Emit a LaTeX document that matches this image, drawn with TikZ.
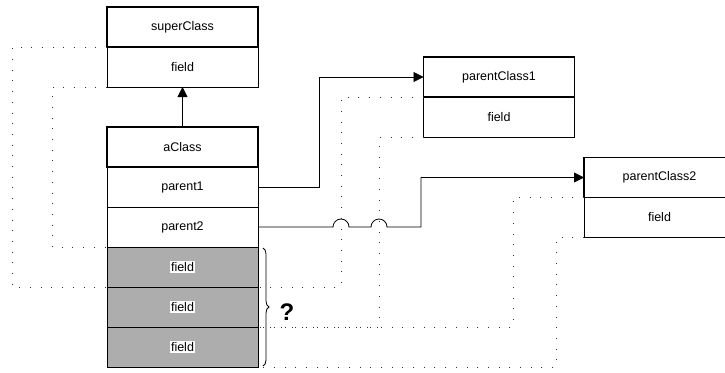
\documentclass[tikz,border=0pt]{standalone}
\usepackage{fontspec}
\setmainfont{Liberation Sans}
\usetikzlibrary{arrows.meta,positioning,decorations.pathreplacing}

\begin{document}
\begin{tikzpicture}[
        x=1pt, y=-1pt,
        box/.style={rectangle, draw, minimum width=151pt, minimum height=40pt, inner sep=0pt, outer sep=0pt, font=\fontsize{12.5}{14}\selectfont},
        head/.style={box, line width=1.8pt},
        fld/.style={box, line width=0.8pt},
        shaded/.style={fld, fill=black!32},
        tag/.style={fill=white, inner sep=1pt, font=\fontsize{12.5}{14}\selectfont},
        arrow/.style={-{Triangle[length=10pt,width=10pt]}, line width=0.8pt},
        link/.style={line width=0.9pt, black!80, dash pattern=on 0.9pt off 9.8pt}
    ]
        \useasboundingbox (0,0) rectangle (725,372);

        % Super class
        \node[fld] (supF) at (182.5,67) {field};
        \node[head, above=0pt of supF] (sup) {superClass};

        % The class and its fields
        \node[head] (aCls) at (182.5,147) {aClass};
        \node[fld, below=0pt of aCls] (par1) {parent1};
        \node[fld, below=0pt of par1] (par2) {parent2};
        \node[shaded, below=0pt of par2] (f1) {};
        \node[shaded, below=0pt of f1] (f2) {};
        \node[shaded, below=0pt of f2] (f3) {};
        \node[tag] (f1t) at (f1) {field};
        \node[tag] (f2t) at (f2) {field};
        \node[tag] (f3t) at (f3) {field};

        % Parent classes
        \node[head] (pc1) at (499,77) {parentClass1};
        \node[fld, below=0pt of pc1] (pc1F) {field};
        \node[head] (pc2) at (659.5,177.5) {parentClass2};
        \node[fld, below=0pt of pc2] (pc2F) {field};

        % Connections
        \draw[arrow] (aCls.north) -- (supF.south);
        \draw[arrow] (par1.east) -- ++(61,0) |- (pc1.west);
        \draw[arrow] (par2.east) -- (333,227) arc (180:360:8) -- (371,227) arc (180:360:8) -- (421,227) |- (pc2.west);

        % Field mapping
        \draw[link] (sup.south west) -| (12,287) -- (f1.south west);
        \draw[link] (supF.south west) -| (52,247) -- (f1.north west);
        \draw[link] (pc1.south west) -| (341,287) -- (f1.south east);
        \draw[link] (pc1F.south west) -| (379,327) -- (f2.south east);
        \draw[link] (pc2.south west) -| (513,327) -- (f3.north east);
        \draw[link] (pc2F.south west) -| (556,367) -- (f3.south east);

        % Brace
        \draw[line width=0.8pt, decorate, decoration={brace, amplitude=6pt}] (263,248) -- (263,366);
        \node[font=\fontsize{24}{26}\selectfont\bfseries] (q) at (287,312) {?};
    \end{tikzpicture}
\end{document}
